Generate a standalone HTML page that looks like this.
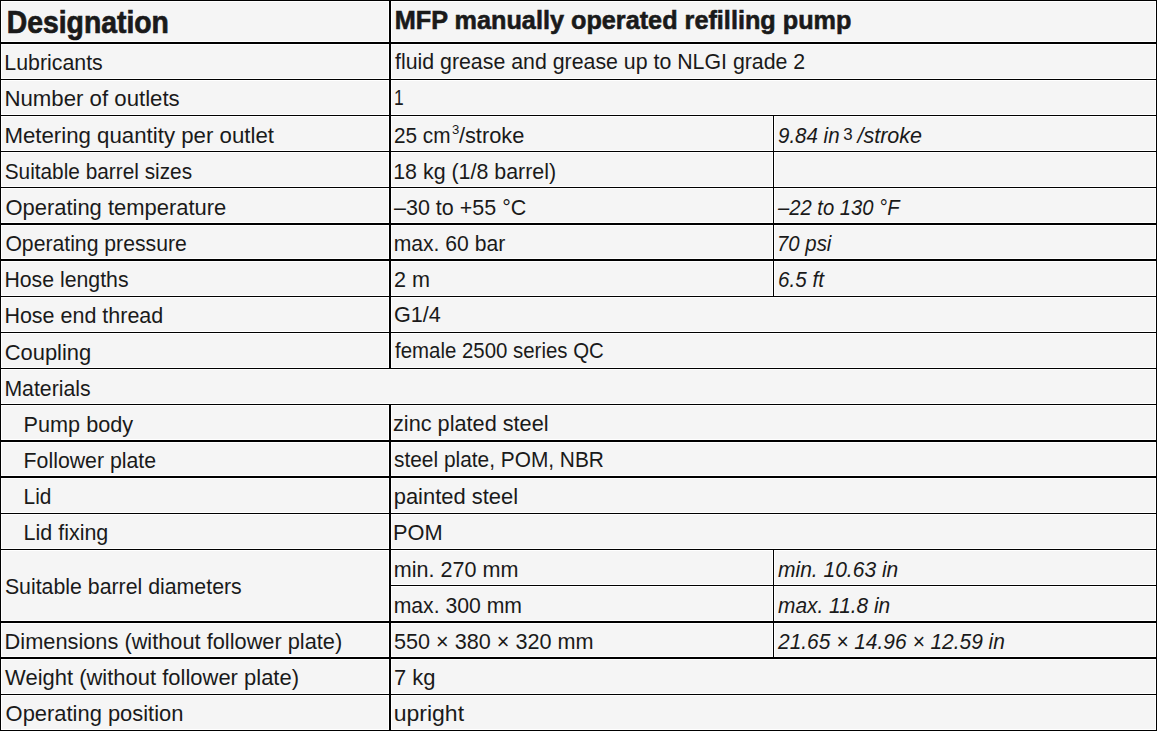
<!DOCTYPE html><html><head><meta charset="utf-8"><style>html,body{margin:0;padding:0;background:#fff;width:1158px;height:732px;overflow:hidden}svg{display:block}text{font-family:"Liberation Sans",sans-serif;fill:#1a1a1a}</style></head><body>
<svg width="1158" height="732" viewBox="0 0 1158 732">
<rect x="0" y="0" width="1157" height="731" fill="#f5f5f5"/>
<rect x="-1" y="-1" width="1159" height="3" fill="#fff"/>
<rect x="-1" y="41" width="1159" height="4" fill="#fff"/>
<rect x="-1" y="78" width="1159" height="3" fill="#fff"/>
<rect x="-1" y="114" width="1159" height="3" fill="#fff"/>
<rect x="-1" y="150" width="1159" height="3" fill="#fff"/>
<rect x="-1" y="186" width="1159" height="3" fill="#fff"/>
<rect x="-1" y="222" width="1159" height="4" fill="#fff"/>
<rect x="-1" y="258" width="1159" height="4" fill="#fff"/>
<rect x="-1" y="295" width="1159" height="3" fill="#fff"/>
<rect x="-1" y="331" width="1159" height="3" fill="#fff"/>
<rect x="-1" y="367" width="1159" height="3" fill="#fff"/>
<rect x="-1" y="403" width="1159" height="3" fill="#fff"/>
<rect x="-1" y="439" width="1159" height="4" fill="#fff"/>
<rect x="-1" y="475" width="1159" height="4" fill="#fff"/>
<rect x="-1" y="512" width="1159" height="3" fill="#fff"/>
<rect x="-1" y="548" width="1159" height="3" fill="#fff"/>
<rect x="388" y="584" width="770" height="3" fill="#fff"/>
<rect x="-1" y="620" width="1159" height="4" fill="#fff"/>
<rect x="-1" y="656" width="1159" height="4" fill="#fff"/>
<rect x="-1" y="693" width="1159" height="3" fill="#fff"/>
<rect x="-1" y="729" width="1159" height="3" fill="#fff"/>
<rect x="-1" y="-1" width="3" height="733" fill="#fff"/>
<rect x="1155" y="-1" width="3" height="733" fill="#fff"/>
<rect x="388" y="-1" width="4" height="371" fill="#fff"/>
<rect x="388" y="403" width="4" height="329" fill="#fff"/>
<rect x="772" y="114" width="3" height="184" fill="#fff"/>
<rect x="772" y="548" width="3" height="112" fill="#fff"/>
<rect x="0" y="0" width="1157" height="1" fill="#000"/>
<rect x="0" y="42" width="1157" height="2" fill="#000"/>
<rect x="0" y="79" width="1157" height="1" fill="#000"/>
<rect x="0" y="115" width="1157" height="1" fill="#000"/>
<rect x="0" y="151" width="1157" height="1" fill="#000"/>
<rect x="0" y="187" width="1157" height="1" fill="#000"/>
<rect x="0" y="223" width="1157" height="2" fill="#000"/>
<rect x="0" y="259" width="1157" height="2" fill="#000"/>
<rect x="0" y="296" width="1157" height="1" fill="#000"/>
<rect x="0" y="332" width="1157" height="1" fill="#000"/>
<rect x="0" y="368" width="1157" height="1" fill="#000"/>
<rect x="0" y="404" width="1157" height="1" fill="#000"/>
<rect x="0" y="440" width="1157" height="2" fill="#000"/>
<rect x="0" y="476" width="1157" height="2" fill="#000"/>
<rect x="0" y="513" width="1157" height="1" fill="#000"/>
<rect x="0" y="549" width="1157" height="1" fill="#000"/>
<rect x="389" y="585" width="768" height="1" fill="#000"/>
<rect x="0" y="621" width="1157" height="2" fill="#000"/>
<rect x="0" y="657" width="1157" height="2" fill="#000"/>
<rect x="0" y="694" width="1157" height="1" fill="#000"/>
<rect x="0" y="730" width="1157" height="1" fill="#000"/>
<rect x="0" y="0" width="1" height="731" fill="#000"/>
<rect x="1156" y="0" width="1" height="731" fill="#000"/>
<rect x="389" y="0" width="2" height="369" fill="#000"/>
<rect x="389" y="404" width="2" height="327" fill="#000"/>
<rect x="773" y="115" width="1" height="182" fill="#000"/>
<rect x="773" y="549" width="1" height="110" fill="#000"/>
<text x="6.80" y="33.00" font-size="30.50" font-weight="bold" stroke="#1a1a1a" stroke-width="0.70" textLength="162.07" lengthAdjust="spacingAndGlyphs">Designation</text>
<text x="394.70" y="29.00" font-size="26.00" font-weight="bold" stroke="#1a1a1a" stroke-width="0.60" textLength="456.78" lengthAdjust="spacingAndGlyphs">MFP manually operated refilling pump</text>
<text x="4.30" y="70.30" font-size="21.50" textLength="98.49" lengthAdjust="spacingAndGlyphs">Lubricants</text>
<text x="395.00" y="69.30" font-size="21.50" textLength="410.24" lengthAdjust="spacingAndGlyphs">fluid grease and grease up to NLGI grade 2</text>
<text x="4.40" y="106.46" font-size="21.50" textLength="175.35" lengthAdjust="spacingAndGlyphs">Number of outlets</text>
<text x="394.00" y="105.46" font-size="21.50" textLength="9.69" lengthAdjust="spacingAndGlyphs">1</text>
<text x="4.40" y="142.62" font-size="21.50" textLength="269.55" lengthAdjust="spacingAndGlyphs">Metering quantity per outlet</text>
<text x="394.00" y="142.62" font-size="21.50" textLength="56.56" lengthAdjust="spacingAndGlyphs">25 cm</text>
<text x="452.00" y="133.62" font-size="13.00" textLength="7.30" lengthAdjust="spacingAndGlyphs">3</text>
<text x="458.90" y="142.62" font-size="21.50" textLength="65.53" lengthAdjust="spacingAndGlyphs">/stroke</text>
<text x="778.00" y="142.62" font-size="21.50" font-style="italic" textLength="61.56" lengthAdjust="spacingAndGlyphs">9.84 in</text>
<text x="843.30" y="139.62" font-size="17.00" textLength="9.40" lengthAdjust="spacingAndGlyphs">3</text>
<text x="857.40" y="142.62" font-size="21.50" font-style="italic" textLength="64.66" lengthAdjust="spacingAndGlyphs">/stroke</text>
<text x="4.70" y="178.77" font-size="21.50" textLength="187.39" lengthAdjust="spacingAndGlyphs">Suitable barrel sizes</text>
<text x="393.20" y="178.77" font-size="21.50" textLength="162.92" lengthAdjust="spacingAndGlyphs">18 kg (1/8 barrel)</text>
<text x="5.40" y="214.93" font-size="21.50" textLength="220.90" lengthAdjust="spacingAndGlyphs">Operating temperature</text>
<text x="394.00" y="214.93" font-size="21.50" textLength="132.25" lengthAdjust="spacingAndGlyphs">–30 to +55 °C</text>
<text x="778.00" y="214.93" font-size="21.50" font-style="italic" textLength="121.49" lengthAdjust="spacingAndGlyphs">–22 to 130 °F</text>
<text x="5.40" y="251.09" font-size="21.50" textLength="181.37" lengthAdjust="spacingAndGlyphs">Operating pressure</text>
<text x="393.70" y="251.09" font-size="21.50" textLength="111.49" lengthAdjust="spacingAndGlyphs">max. 60 bar</text>
<text x="777.00" y="251.09" font-size="21.50" font-style="italic" textLength="54.37" lengthAdjust="spacingAndGlyphs">70 psi</text>
<text x="4.40" y="287.25" font-size="21.50" textLength="124.18" lengthAdjust="spacingAndGlyphs">Hose lengths</text>
<text x="394.00" y="287.25" font-size="21.50" textLength="36.02" lengthAdjust="spacingAndGlyphs">2 m</text>
<text x="778.00" y="287.25" font-size="21.50" font-style="italic" textLength="45.86" lengthAdjust="spacingAndGlyphs">6.5 ft</text>
<text x="4.40" y="323.41" font-size="21.50" textLength="158.88" lengthAdjust="spacingAndGlyphs">Hose end thread</text>
<text x="394.00" y="322.41" font-size="21.50" textLength="46.85" lengthAdjust="spacingAndGlyphs">G1/4</text>
<text x="4.70" y="359.56" font-size="21.50" textLength="86.51" lengthAdjust="spacingAndGlyphs">Coupling</text>
<text x="395.00" y="357.56" font-size="21.50" textLength="208.78" lengthAdjust="spacingAndGlyphs">female 2500 series QC</text>
<text x="4.40" y="395.72" font-size="21.50" textLength="86.20" lengthAdjust="spacingAndGlyphs">Materials</text>
<text x="23.60" y="431.88" font-size="21.50" textLength="109.53" lengthAdjust="spacingAndGlyphs">Pump body</text>
<text x="393.00" y="430.88" font-size="21.50" textLength="155.59" lengthAdjust="spacingAndGlyphs">zinc plated steel</text>
<text x="23.60" y="468.04" font-size="21.50" textLength="132.53" lengthAdjust="spacingAndGlyphs">Follower plate</text>
<text x="394.00" y="467.04" font-size="21.50" textLength="209.95" lengthAdjust="spacingAndGlyphs">steel plate, POM, NBR</text>
<text x="23.60" y="504.20" font-size="21.50" textLength="27.83" lengthAdjust="spacingAndGlyphs">Lid</text>
<text x="393.70" y="504.20" font-size="21.50" textLength="124.49" lengthAdjust="spacingAndGlyphs">painted steel</text>
<text x="23.60" y="540.35" font-size="21.50" textLength="84.69" lengthAdjust="spacingAndGlyphs">Lid fixing</text>
<text x="393.00" y="540.35" font-size="21.50" textLength="49.64" lengthAdjust="spacingAndGlyphs">POM</text>
<text x="4.90" y="593.97" font-size="21.50" textLength="236.85" lengthAdjust="spacingAndGlyphs">Suitable barrel diameters</text>
<text x="393.70" y="576.51" font-size="21.50" textLength="124.68" lengthAdjust="spacingAndGlyphs">min. 270 mm</text>
<text x="778.00" y="576.51" font-size="21.50" font-style="italic" textLength="120.25" lengthAdjust="spacingAndGlyphs">min. 10.63 in</text>
<text x="393.70" y="612.67" font-size="21.50" textLength="128.30" lengthAdjust="spacingAndGlyphs">max. 300 mm</text>
<text x="778.00" y="612.67" font-size="21.50" font-style="italic" textLength="112.24" lengthAdjust="spacingAndGlyphs">max. 11.8 in</text>
<text x="4.60" y="648.83" font-size="21.50" textLength="337.64" lengthAdjust="spacingAndGlyphs">Dimensions (without follower plate)</text>
<text x="394.00" y="648.83" font-size="21.50" textLength="199.61" lengthAdjust="spacingAndGlyphs">550 × 380 × 320 mm</text>
<text x="778.00" y="648.83" font-size="21.50" font-style="italic" textLength="226.90" lengthAdjust="spacingAndGlyphs">21.65 × 14.96 × 12.59 in</text>
<text x="5.10" y="684.99" font-size="21.50" textLength="293.91" lengthAdjust="spacingAndGlyphs">Weight (without follower plate)</text>
<text x="394.00" y="684.99" font-size="21.50" textLength="41.50" lengthAdjust="spacingAndGlyphs">7 kg</text>
<text x="5.60" y="721.14" font-size="21.50" textLength="177.85" lengthAdjust="spacingAndGlyphs">Operating position</text>
<text x="393.70" y="721.14" font-size="21.50" textLength="70.38" lengthAdjust="spacingAndGlyphs">upright</text>
</svg></body></html>
